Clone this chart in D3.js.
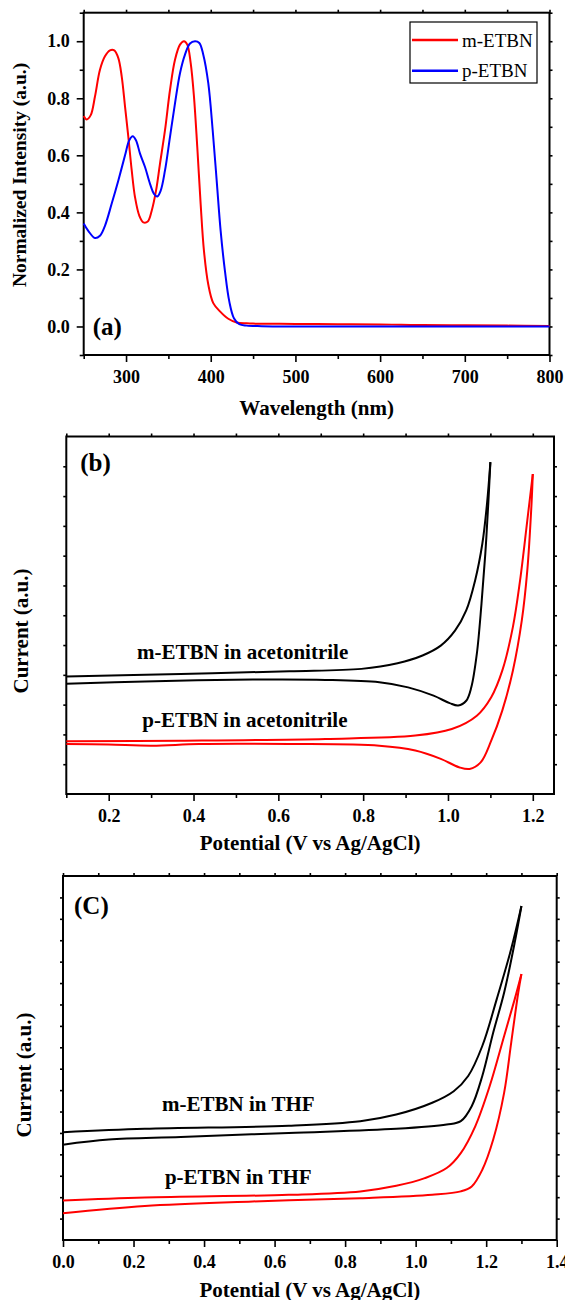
<!DOCTYPE html>
<html>
<head>
<meta charset="utf-8">
<script src="https://cdn.jsdelivr.net/npm/d3@7"></script>
<style>
body { margin: 0; background: #fff; }
svg { display: block; }
text { font-family: "Liberation Serif", "Times New Roman", serif; fill: #000; }
.axis text { font-family: "Liberation Serif", "Times New Roman", serif; font-size: 18px; font-weight: bold; fill: #000; }
.axis line { stroke: #000; stroke-width: 1.6; }
.axis-title { font-size: 21px; font-weight: bold; }
.axis-title.small { font-size: 19.5px; }
.panel-label { font-size: 25px; font-weight: bold; }
.curve-label { font-size: 21px; font-weight: bold; }
.legend-text { font-size: 19px; }
.frame { fill: none; stroke: #000; stroke-width: 2; }
.curve { fill: none; stroke-width: 2; stroke-linejoin: round; }
</style>
</head>
<body>
<svg id="fig" width="565" height="1300"></svg>
<script>
// (a) normalized absorption, wavelength in nm
const mWavelength = [250, 253.5, 258.3, 263.3, 269.2, 275.1, 281, 286.1, 290.9, 294.9, 298.8, 302.7,
    306.7, 310.6, 315.7, 320.4, 325.6, 330.3, 335.4, 340.1, 346, 351.9, 357.8, 363.7, 368.4, 372.3,
    376.3, 380.2, 384.1, 388.1, 392, 397.1, 403, 410.9, 420.7, 430.6, 442.4, 450, 500, 550, 600,
    650, 700, 750, 800];
const mIntensity = [0.738, 0.726, 0.741, 0.806, 0.9, 0.947, 0.968, 0.968, 0.941, 0.876, 0.771, 0.665,
    0.547, 0.453, 0.388, 0.365, 0.368, 0.406, 0.476, 0.571, 0.688, 0.829, 0.935, 0.988, 1.0, 0.988,
    0.924, 0.806, 0.629, 0.429, 0.265, 0.147, 0.082, 0.053, 0.027, 0.014, 0.011, 0.01, 0.009, 0.008,
    0.007, 0.005, 0.004, 0.003, 0.002];
const pWavelength = [250, 255.4, 263.3, 269.2, 275.1, 283, 290.9, 298.8, 303.8, 307.9, 311.7, 316.5,
    322.4, 328.3, 333, 336.9, 340.9, 346, 351.9, 357.8, 363.7, 369.6, 375.5, 381.4, 386.5, 391.2,
    397.1, 402.3, 407, 411.7, 416.8, 421.9, 427.4, 433.7, 442.4, 460, 500, 600, 700, 800];
const pIntensity = [0.361, 0.335, 0.31, 0.318, 0.353, 0.43, 0.512, 0.6, 0.653, 0.667, 0.653, 0.606,
    0.559, 0.5, 0.465, 0.456, 0.476, 0.547, 0.665, 0.782, 0.888, 0.953, 0.992, 1.0, 0.994, 0.953,
    0.853, 0.688, 0.512, 0.335, 0.194, 0.088, 0.029, 0.008, 0.003, 0.001, 0, 0, 0, 0];
const uvTicksX = [300, 400, 500, 600, 700, 800];
const uvTicksY = [0.0, 0.2, 0.4, 0.6, 0.8, 1.0];
const uvSeries = ["m-ETBN", "p-ETBN"];

// (b) cyclic voltammetry in acetonitrile, [potential V, current a.u.]
const mAcnForward = [[0.10, 3.94], [0.37, 4.03], [0.626, 4.12], [0.796, 4.2], [0.881, 4.39], [0.94, 4.65],
    [0.983, 4.98], [1.017, 5.49], [1.043, 6.16], [1.064, 7.17], [1.081, 8.4], [1.092, 9.74], [1.10, 11.14]];
const mAcnReverse = [[1.10, 11.14], [1.095, 9.74], [1.088, 8.06], [1.079, 6.38], [1.068, 4.7], [1.055, 3.58],
    [1.043, 3.13], [1.024, 2.97], [1.004, 3.05], [0.966, 3.3], [0.906, 3.58], [0.838, 3.75], [0.711, 3.83],
    [0.54, 3.84], [0.285, 3.78], [0.10, 3.70]];
const pAcnForward = [[0.10, 1.77], [0.37, 1.79], [0.711, 1.85], [0.923, 1.96], [1.009, 2.18], [1.068, 2.63],
    [1.102, 3.25], [1.128, 4.14], [1.153, 5.6], [1.17, 7.17], [1.187, 9.18], [1.20, 10.74]];
const pAcnReverse = [[1.20, 10.74], [1.197, 9.74], [1.187, 7.5], [1.174, 5.82], [1.153, 4.14], [1.128, 2.8],
    [1.102, 1.79], [1.077, 1.06], [1.051, 0.84], [1.026, 0.9], [0.983, 1.18], [0.923, 1.46], [0.838, 1.62],
    [0.626, 1.68], [0.413, 1.68], [0.302, 1.62], [0.20, 1.66], [0.10, 1.68]];
const acnTicksX = [0.2, 0.4, 0.6, 0.8, 1.0, 1.2];
const acnLabels = ["m-ETBN in acetonitrile", "p-ETBN in acetonitrile"];

// (c) cyclic voltammetry in THF
const mThfForward = [[0, 5.03], [0.232, 5.19], [0.64, 5.34], [0.843, 5.55], [0.945, 5.86], [1.047, 6.41],
    [1.108, 6.95], [1.149, 7.66], [1.189, 9.06], [1.23, 11.25], [1.271, 13.6], [1.30, 15.6]];
const mThfReverse = [[1.30, 15.6], [1.281, 13.9], [1.251, 11.56], [1.22, 9.69], [1.189, 7.66], [1.159, 6.25],
    [1.128, 5.55], [1.088, 5.39], [0.945, 5.19], [0.64, 5.0], [0.334, 4.81], [0.13, 4.69], [0, 4.45]];
const pThfForward = [[0, 1.84], [0.232, 1.98], [0.64, 2.11], [0.843, 2.27], [0.945, 2.53], [1.026, 2.89],
    [1.088, 3.36], [1.128, 4.06], [1.169, 5.31], [1.21, 7.19], [1.251, 9.53], [1.281, 11.25], [1.30, 12.42]];
const pThfReverse = [[1.30, 12.42], [1.291, 11.56], [1.271, 9.22], [1.251, 6.88], [1.22, 4.69], [1.189, 3.28],
    [1.159, 2.5], [1.128, 2.27], [1.047, 2.11], [0.843, 1.95], [0.538, 1.8], [0.232, 1.59], [0, 1.25]];
const thfTicksX = [0.0, 0.2, 0.4, 0.6, 0.8, 1.0, 1.2, 1.4];
const thfLabels = ["m-ETBN in THF", "p-ETBN in THF"];

const colors = { red: "#ff0000", blue: "#0000ff", black: "#000000" };

const translate = function(a, b) {
    return "translate(" + a + ", " + b + ")";
};

const drawPanel = function(svg, p) {
    let g = svg.append("g");
    let x = d3.scaleLinear().domain(p.xDomain).range(p.xRange);
    let y = d3.scaleLinear().domain(p.yDomain).range(p.yRange);
    let bottom = p.yRange[0];
    let top = p.yRange[1];
    let left = p.xRange[0];
    let right = p.xRange[1];
    let allX = p.xMajor.concat(p.xMinor);
    let allY = p.yMajor.concat(p.yMinor);

    g.append("g")
        .attr("class", "axis")
        .attr("transform", translate(0, bottom))
        .call(d3.axisBottom(x).tickValues(p.xMajor).tickSize(7).tickPadding(8).tickFormat(p.xFormat));
    g.append("g")
        .attr("class", "axis")
        .attr("transform", translate(0, bottom))
        .call(d3.axisBottom(x).tickValues(p.xMinor).tickSize(4).tickFormat(""));
    g.append("g")
        .attr("class", "axis")
        .attr("transform", translate(0, top))
        .call(d3.axisTop(x).tickValues(allX).tickSize(3).tickFormat(""));

    if (p.yFormat) {
        g.append("g")
            .attr("class", "axis")
            .attr("transform", translate(left, 0))
            .call(d3.axisLeft(y).tickValues(p.yMajor).tickSize(7).tickPadding(7).tickFormat(p.yFormat));
        g.append("g")
            .attr("class", "axis")
            .attr("transform", translate(left, 0))
            .call(d3.axisLeft(y).tickValues(p.yMinor).tickSize(4).tickFormat(""));
    } else {
        g.append("g")
            .attr("class", "axis")
            .attr("transform", translate(left, 0))
            .call(d3.axisLeft(y).tickValues(allY).tickSize(3).tickFormat(""));
    }
    g.append("g")
        .attr("class", "axis")
        .attr("transform", translate(right, 0))
        .call(d3.axisRight(y).tickValues(allY).tickSize(3).tickFormat(""));

    g.selectAll(".axis .domain").remove();

    g.append("rect")
        .attr("class", "frame")
        .attr("x", left)
        .attr("y", top)
        .attr("width", right - left)
        .attr("height", bottom - top);

    g.append("text")
        .attr("class", "axis-title")
        .attr("x", (left + right) / 2)
        .attr("y", p.xTitleY)
        .attr("text-anchor", "middle")
        .text(p.xTitle);

    g.append("text")
        .attr("class", "axis-title" + (p.yTitleSmall ? " small" : ""))
        .attr("transform", translate(p.yTitleX, p.yTitleCenter) + " rotate(-90)")
        .attr("text-anchor", "middle")
        .text(p.yTitle);

    g.append("text")
        .attr("class", "panel-label")
        .attr("x", left + p.labelDx)
        .attr("y", top + p.labelDy)
        .text(p.label);

    return { g: g, x: x, y: y };
};

const lineFor = function(x, y) {
    return d3
        .line()
        .x(d => x(d[0]))
        .y(d => y(d[1]))
        .curve(d3.curveCatmullRom.alpha(0.5));
};

const drawCurve = function(g, points, line, color) {
    g.append("path")
        .datum(points)
        .attr("class", "curve")
        .attr("d", line)
        .style("stroke", color);
};

const fmt1 = d3.format(".1f");
const svg = d3.select("#fig");

// ---- panel (a) ----
let a = drawPanel(svg, {
    xDomain: [250, 800], xRange: [83.7, 549.5],
    yDomain: [-0.1, 1.1], yRange: [355, 12.7],
    xMajor: uvTicksX, xMinor: [250, 350, 450, 550, 650, 750],
    yMajor: uvTicksY, yMinor: [-0.1, 0.1, 0.3, 0.5, 0.7, 0.9, 1.1],
    xFormat: d3.format("d"), yFormat: fmt1,
    xTitle: "Wavelength (nm)", xTitleY: 415,
    yTitle: "Normalized Intensity (a.u.)", yTitleX: 26, yTitleCenter: 175, yTitleSmall: true,
    label: "(a)", labelDx: 9, labelDy: 322
});
let lineA = lineFor(a.x, a.y);
drawCurve(a.g, mWavelength.map((w, i) => [w, mIntensity[i]]), lineA, colors.red);
drawCurve(a.g, pWavelength.map((w, i) => [w, pIntensity[i]]), lineA, colors.blue);

let legend = a.g.append("g").attr("transform", translate(410, 22));
legend.append("rect")
    .attr("width", 127)
    .attr("height", 61)
    .style("fill", "#fff")
    .style("stroke", "#000")
    .style("stroke-width", 1.2);
legend.selectAll(".legend-line")
    .data(uvSeries)
    .enter()
    .append("line")
    .attr("x1", 2)
    .attr("x2", 48)
    .attr("y1", (d, i) => 18 + i * 30.7)
    .attr("y2", (d, i) => 18 + i * 30.7)
    .style("stroke", (d, i) => (i === 0 ? colors.red : colors.blue))
    .style("stroke-width", 2.5);
legend.selectAll(".legend-text")
    .data(uvSeries)
    .enter()
    .append("text")
    .attr("class", "legend-text")
    .attr("x", 52)
    .attr("y", (d, i) => 24.5 + i * 30.7)
    .text(d => d);

// ---- panel (b) ----
let b = drawPanel(svg, {
    xDomain: [0.1, 1.25], xRange: [66.3, 554],
    yDomain: [0, 12], yRange: [794, 436.5],
    xMajor: acnTicksX, xMinor: [0.1, 0.3, 0.5, 0.7, 0.9, 1.1],
    yMajor: d3.range(1, 12), yMinor: [],
    xFormat: fmt1, yFormat: null,
    xTitle: "Potential (V vs Ag/AgCl)", xTitleY: 850,
    yTitle: "Current (a.u.)", yTitleX: 28, yTitleCenter: 631,
    label: "(b)", labelDx: 14, labelDy: 34.5
});
let lineB = lineFor(b.x, b.y);
drawCurve(b.g, mAcnForward, lineB, colors.black);
drawCurve(b.g, mAcnReverse, lineB, colors.black);
drawCurve(b.g, pAcnForward, lineB, colors.red);
drawCurve(b.g, pAcnReverse, lineB, colors.red);
b.g.selectAll(".curve-label")
    .data(acnLabels)
    .enter()
    .append("text")
    .attr("class", "curve-label")
    .attr("x", (d, i) => b.x(i === 0 ? 0.267 : 0.279))
    .attr("y", (d, i) => b.y(i === 0 ? 4.53 : 2.25))
    .text(d => d);

// ---- panel (c) ----
let c = drawPanel(svg, {
    xDomain: [0, 1.4], xRange: [63, 556.7],
    yDomain: [0, 17], yRange: [1240, 876],
    xMajor: thfTicksX, xMinor: [0.1, 0.3, 0.5, 0.7, 0.9, 1.1, 1.3],
    yMajor: d3.range(1, 17), yMinor: [],
    xFormat: fmt1, yFormat: null,
    xTitle: "Potential (V vs Ag/AgCl)", xTitleY: 1297,
    yTitle: "Current (a.u.)", yTitleX: 31, yTitleCenter: 1075,
    label: "(C)", labelDx: 11, labelDy: 38
});
let lineC = lineFor(c.x, c.y);
drawCurve(c.g, mThfForward, lineC, colors.black);
drawCurve(c.g, mThfReverse, lineC, colors.black);
drawCurve(c.g, pThfForward, lineC, colors.red);
drawCurve(c.g, pThfReverse, lineC, colors.red);
c.g.selectAll(".curve-label")
    .data(thfLabels)
    .enter()
    .append("text")
    .attr("class", "curve-label")
    .attr("x", (d, i) => c.x(i === 0 ? 0.281 : 0.289))
    .attr("y", (d, i) => c.y(i === 0 ? 6.02 : 2.62))
    .text(d => d);
</script>
</body>
</html>
